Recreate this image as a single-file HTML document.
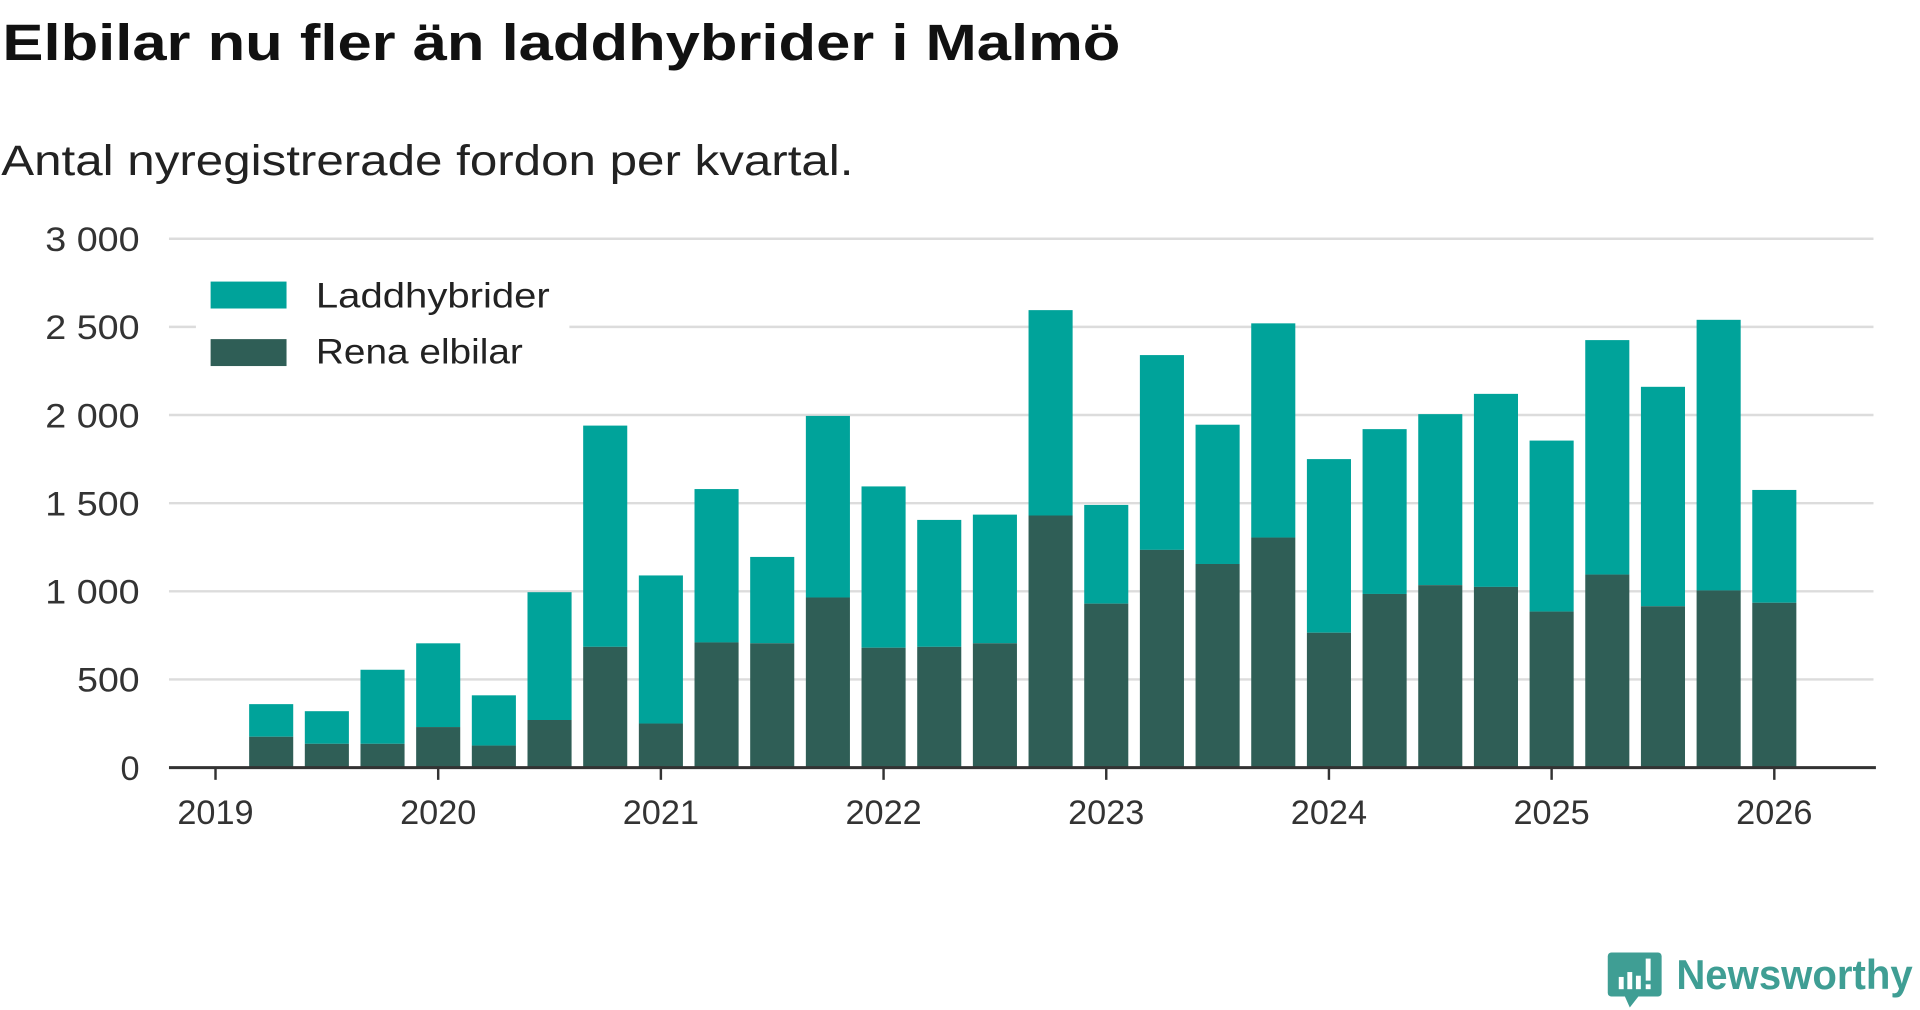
<!DOCTYPE html>
<html><head><meta charset="utf-8"><style>
html,body{margin:0;padding:0;background:#fff;width:1920px;height:1010px;overflow:hidden}
svg{display:block;font-family:"Liberation Sans",sans-serif}
</style></head><body>
<svg id="chart" width="1920" height="1010" viewBox="0 0 1568 825" preserveAspectRatio="none">
<text x="2" y="49" font-size="42" font-weight="bold" fill="#111" textLength="913" lengthAdjust="spacingAndGlyphs">Elbilar nu fler än laddhybrider i Malmö</text>
<text x="1" y="143" font-size="35" fill="#222" textLength="696" lengthAdjust="spacingAndGlyphs">Antal nyregistrerade fordon per kvartal.</text>
<g id="grid"></g>
<g id="bars"></g>
<g id="xaxis"></g>
<g>
<rect x="160" y="220" width="305" height="88" fill="#fff"/>
<rect x="172" y="230" width="62" height="22" fill="#00a39a"/>
<text x="258" y="251" font-size="29" fill="#222" textLength="191" lengthAdjust="spacingAndGlyphs">Laddhybrider</text>
<rect x="172" y="277" width="62" height="22" fill="#2f5e56"/>
<text x="258" y="297" font-size="29" fill="#222" textLength="169" lengthAdjust="spacingAndGlyphs">Rena elbilar</text>
</g>
<g>
<path d="M1316 778 h38 a3 3 0 0 1 3 3 v30 a3 3 0 0 1 -3 3 h-16 l-7 9 l-4 -9 h-11 a3 3 0 0 1 -3 -3 v-30 a3 3 0 0 1 3 -3z" fill="#3f9e94"/>
<rect x="1322" y="798" width="4" height="10" fill="#fff"/><rect x="1329" y="794" width="4" height="14" fill="#fff"/><rect x="1336" y="797" width="4" height="11" fill="#fff"/><rect x="1344" y="783" width="4" height="18" fill="#fff"/><rect x="1344" y="804" width="4" height="4" fill="#fff"/>
<text x="1369" y="808" font-size="34" font-weight="bold" fill="#3f9e94" textLength="193" lengthAdjust="spacingAndGlyphs">Newsworthy</text>
</g>
</svg>
<script>
const totals=[360,320,555,705,410,995,1940,1090,1580,1195,1995,1595,1405,1435,2595,1490,2340,1945,2520,1750,1920,2005,2120,1855,2425,2160,2540,1575];
const elbilar=[175,135,135,230,125,270,685,250,710,705,965,680,685,705,1430,930,1235,1155,1305,765,985,1035,1025,885,1095,915,1005,935];
const yTicks=[0,500,1000,1500,2000,2500,3000];
const yTickLabels=["0","500","1 000","1 500","2 000","2 500","3 000"];
const years=[2019,2020,2021,2022,2023,2024,2025,2026];
const NS="http://www.w3.org/2000/svg";
const y=v=>627-v*0.144;
const xYear=t=>176+(t-2019)*181.86;
const xBar=i=>xYear(2019+(i+1)*0.25);
function mk(tag,attrs,parent,txt){const e=document.createElementNS(NS,tag);for(const k in attrs)e.setAttribute(k,attrs[k]);if(txt!==undefined)e.textContent=txt;parent.appendChild(e);return e;}
const grid=document.getElementById('grid'),bars=document.getElementById('bars'),xa=document.getElementById('xaxis');
yTicks.forEach((t,i)=>{
  if(t>0){const l=mk('line',{x1:138,x2:1530,y1:y(t),y2:y(t),stroke:'#dcdcdc','stroke-width':2},grid);
  
  }
  const tx=mk('text',{x:114,y:y(t)+10,'text-anchor':'end','font-size':28,fill:'#333'},grid,yTickLabels[i]);
  if(yTickLabels[i].length>3){tx.setAttribute('textLength',77);tx.setAttribute('lengthAdjust','spacingAndGlyphs');}
  else if(yTickLabels[i].length===3){tx.setAttribute('textLength',51);tx.setAttribute('lengthAdjust','spacingAndGlyphs');}
  
  
});
const bw=36;
totals.forEach((tot,i)=>{
  const cx=xBar(i),e=elbilar[i];
  const r1=mk('rect',{x:cx-bw/2,y:y(tot),width:bw,height:y(e)-y(tot),fill:'#00a39a'},bars);
  
  
  const r2=mk('rect',{x:cx-bw/2,y:y(e),width:bw,height:y(0)-y(e),fill:'#2f5e56'},bars);
  
  
});
const ax=mk('line',{x1:138,x2:1532,y1:627,y2:627,stroke:'#333','stroke-width':2.5},xa);


years.forEach(yr=>{
  const x=xYear(yr);
  const tk=mk('line',{x1:x,x2:x,y1:627,y2:637,stroke:'#333','stroke-width':2},xa);
  
  
  const tl=mk('text',{x:x,y:673,'text-anchor':'middle','font-size':28,fill:'#333'},xa,String(yr));
  
  
});
</script>
</body></html>
